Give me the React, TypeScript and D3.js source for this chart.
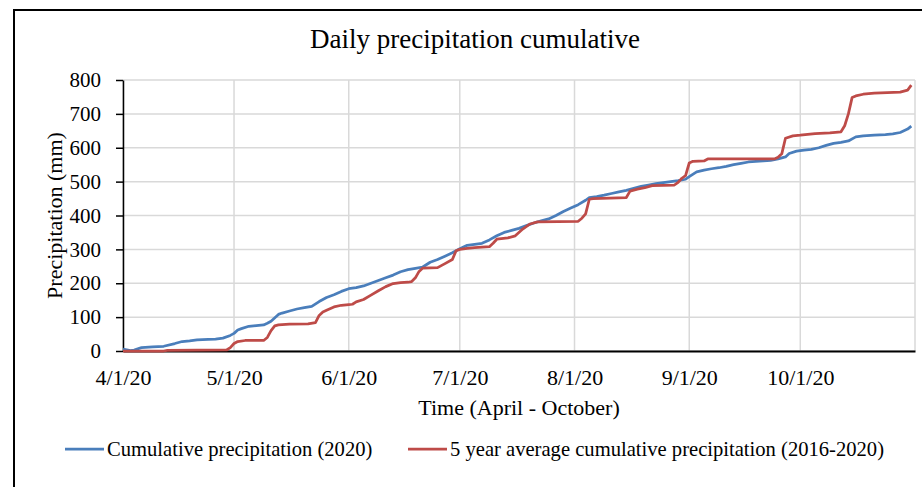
import { useEffect, useRef } from 'react';
import * as d3 from 'd3';

// 2020 cumulative precipitation (mm)
const obsDates = ['4/1', '4/3', '4/4', '4/6', '4/9', '4/12', '4/15', '4/17', '4/19', '4/21', '4/24', '4/26', '4/28', '4/30',
  '5/1', '5/2', '5/3', '5/5', '5/7', '5/9', '5/10', '5/11', '5/13', '5/14', '5/16', '5/18', '5/20', '5/22', '5/24', '5/26', '5/28', '5/30',
  '6/1', '6/3', '6/5', '6/7', '6/9', '6/11', '6/13', '6/15', '6/17', '6/19', '6/21', '6/23', '6/25', '6/27', '6/29',
  '7/1', '7/3', '7/5', '7/7', '7/9', '7/11', '7/13', '7/15', '7/17', '7/19', '7/21', '7/23', '7/25', '7/27', '7/29', '7/31',
  '8/2', '8/4', '8/5', '8/7', '8/9', '8/11', '8/13', '8/15', '8/17', '8/19', '8/21', '8/23', '8/25', '8/27', '8/29', '8/31',
  '9/1', '9/3', '9/5', '9/7', '9/9', '9/11', '9/13', '9/15', '9/17', '9/19', '9/21', '9/23', '9/25', '9/27', '9/28', '9/30',
  '10/2', '10/4', '10/6', '10/8', '10/10', '10/12', '10/14', '10/16', '10/18', '10/21', '10/24', '10/26', '10/28', '10/30', '10/31'];
const obsValues = [6, 1, 3, 10, 12, 14, 22, 28, 30, 33, 34, 35, 38, 46,
  52, 62, 66, 73, 75, 77, 82, 88, 108, 112, 118, 124, 128, 132, 146, 158, 166, 176,
  184, 187, 192, 200, 208, 216, 224, 234, 240, 244, 248, 262, 270, 280, 290,
  302, 312, 315, 318, 328, 340, 350, 356, 362, 370, 378, 384, 390, 400, 412, 422,
  432, 445, 453, 456, 460, 465, 470, 474, 480, 486, 490, 494, 497, 500, 503, 507,
  515, 529, 534, 538, 541, 545, 550, 554, 558, 560, 561, 563, 567, 573, 583, 590,
  593, 595, 600, 607, 613, 616, 620, 632, 635, 637, 639, 641, 645, 655, 664];

// 5 year average (2016-2020) cumulative precipitation (mm)
const avgDates = ['4/1', '4/12', '4/13', '4/29', '4/30',
  '5/1', '5/2', '5/4', '5/9', '5/10', '5/11', '5/12', '5/13', '5/16', '5/21', '5/23', '5/24', '5/25', '5/26', '5/28', '5/30',
  '6/1', '6/2', '6/3', '6/5', '6/7', '6/9', '6/11', '6/13', '6/15', '6/17', '6/18', '6/19', '6/20', '6/21', '6/25', '6/26', '6/27', '6/29', '6/30',
  '7/1', '7/3', '7/5', '7/9', '7/10', '7/11', '7/14', '7/16', '7/18', '7/20', '7/22',
  '8/2', '8/3', '8/4', '8/5', '8/6', '8/15', '8/16', '8/18', '8/20', '8/22', '8/28', '8/29', '8/30', '8/31',
  '9/1', '9/2', '9/5', '9/6', '9/24', '9/25', '9/26', '9/27', '9/29',
  '10/1', '10/5', '10/9', '10/12', '10/13', '10/14', '10/15', '10/16', '10/18', '10/21', '10/28', '10/30', '10/31'];
const avgValues = [0, 0, 2, 3, 10,
  22, 28, 31, 31, 40, 60, 74, 77, 79, 80, 84, 105, 115, 120, 130, 135,
  137, 138, 145, 152, 165, 178, 190, 199, 202, 203, 205, 216, 235, 245, 246, 252, 258, 270, 296,
  300, 303, 305, 308, 318, 330, 334, 340, 360, 375, 381,
  383, 392, 405, 448, 450, 453, 472, 478, 482, 488, 490, 498, 510, 518,
  555, 560, 561, 567, 567, 572, 582, 628, 635,
  637, 642, 644, 647, 665, 700, 748, 753, 758, 761, 764, 770, 785];

const yTicks = [0, 100, 200, 300, 400, 500, 600, 700, 800];
const seriesNames = ['Cumulative precipitation (2020)', '5 year average cumulative precipitation (2016-2020)'];
const seriesColors = ['#4a7ebb', '#be4b48'];

const W = 922;
const H = 487;
const FONT = '"Liberation Serif", "Times New Roman", serif';

const App = () => {
  const svgRef = useRef<SVGSVGElement>(null);

  useEffect(() => {
    const svg = d3.select(svgRef.current);
    svg.selectAll('*').remove();

    const parse = d3.timeParse('%m/%d/%Y');
    const toPoints = (dates: string[], values: number[]) =>
      dates.map((d, i) => ({ date: parse(d + '/2020') as Date, value: values[i] }));
    const series = [toPoints(obsDates, obsValues), toPoints(avgDates, avgValues)];

    const left = 123, right = 915, top = 80, bottom = 351;

    const x = d3.scaleTime()
      .domain([parse('4/1/2020') as Date, parse('11/1/2020') as Date])
      .range([left, right]);
    const y = d3.scaleLinear().domain([0, 800]).range([bottom, top]);

    // outer frame
    svg.append('rect')
      .attr('x', 14).attr('y', 10)
      .attr('width', 940).attr('height', 500)
      .attr('fill', '#fff')
      .attr('stroke', '#000')
      .attr('stroke-width', 2);

    // gridlines
    const months = x.ticks(d3.timeMonth.every(1) as d3.TimeInterval);
    svg.append('g')
      .selectAll('line.h')
      .data(yTicks)
      .join('line')
      .attr('x1', left).attr('x2', right)
      .attr('y1', d => y(d)).attr('y2', d => y(d))
      .attr('stroke', '#d9d9d9').attr('stroke-width', 1.5);
    svg.append('g')
      .selectAll('line.v')
      .data(months)
      .join('line')
      .attr('x1', d => x(d)).attr('x2', d => x(d))
      .attr('y1', top).attr('y2', bottom)
      .attr('stroke', '#d9d9d9').attr('stroke-width', 1.5);

    // y axis
    const yAxis = svg.append('g')
      .attr('transform', `translate(${left},0)`)
      .call(d3.axisLeft(y).tickValues(yTicks).tickSize(7).tickPadding(15).tickSizeOuter(0));
    yAxis.select('.domain').attr('stroke', '#000').attr('stroke-width', 1.5);
    yAxis.selectAll('.tick line').attr('stroke', '#000').attr('stroke-width', 1.5);
    yAxis.selectAll('text')
      .style('font-family', FONT)
      .style('font-size', '21px')
      .attr('fill', '#000');

    // x axis
    const fmt = d3.timeFormat('%-m/%-d/%y');
    const xAxis = svg.append('g')
      .attr('transform', `translate(0,${bottom})`)
      .call(d3.axisBottom(x)
        .tickValues(months.slice(0, 7))
        .tickFormat(d => fmt(d as Date))
        .tickSize(0)
        .tickSizeOuter(0));
    xAxis.select('.domain').attr('stroke', '#000').attr('stroke-width', 2);
    xAxis.selectAll('text')
      .attr('y', 34).attr('dy', 0)
      .style('font-family', FONT)
      .style('font-size', '22px')
      .attr('fill', '#000');

    // lines
    const line = d3.line<{ date: Date; value: number }>()
      .x(d => x(d.date))
      .y(d => y(d.value));
    series.forEach((s, i) => {
      svg.append('path')
        .datum(s)
        .attr('d', line)
        .attr('fill', 'none')
        .attr('stroke', seriesColors[i])
        .attr('stroke-width', 2.75)
        .attr('stroke-linejoin', 'round');
    });

    // titles
    svg.append('text')
      .attr('x', 475).attr('y', 48)
      .attr('text-anchor', 'middle')
      .style('font-family', FONT)
      .style('font-size', '27px')
      .text('Daily precipitation cumulative');

    svg.append('text')
      .attr('transform', `translate(62,${(top + bottom) / 2}) rotate(-90)`)
      .attr('text-anchor', 'middle')
      .style('font-family', FONT)
      .style('font-size', '22px')
      .text('Precipitation (mm)');

    svg.append('text')
      .attr('x', (left + right) / 2).attr('y', 415)
      .attr('text-anchor', 'middle')
      .style('font-family', FONT)
      .style('font-size', '22px')
      .text('Time (April - October)');

    // legend
    const legendX = [65, 408];
    seriesNames.forEach((name, i) => {
      const g = svg.append('g').attr('transform', `translate(${legendX[i]},449)`);
      g.append('line')
        .attr('x1', 0).attr('x2', 39)
        .attr('stroke', seriesColors[i])
        .attr('stroke-width', 2.75);
      g.append('text')
        .attr('x', 42).attr('y', 7)
        .style('font-family', FONT)
        .style('font-size', '20.6px')
        .text(name);
    });
  }, []);

  return (
    <svg
      ref={svgRef}
      width={W}
      height={H}
      style={{ position: 'absolute', left: 0, top: 0, display: 'block', background: '#fff' }}
    />
  );
};

export default App;
